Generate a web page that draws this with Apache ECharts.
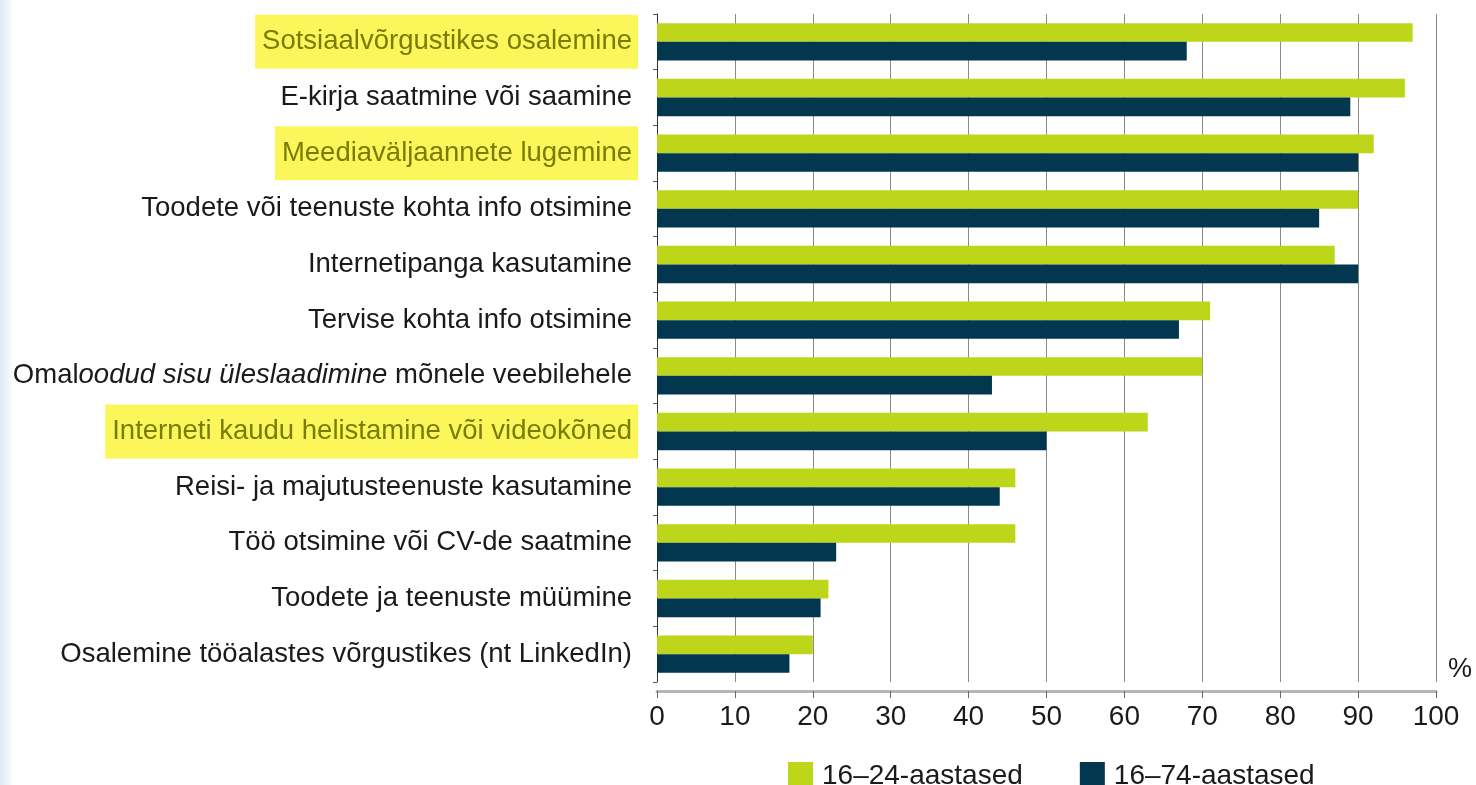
<!DOCTYPE html>
<html>
<head>
<meta charset="utf-8">
<script src="https://cdn.jsdelivr.net/npm/echarts@6/dist/echarts.min.js"></script>
<style>html,body{margin:0;padding:0;background:#fff;}#c{width:1476px;height:785px;}</style>
</head>
<body>
<div id="c"></div>
<script>
const categories = [
  'Sotsiaalvõrgustikes osalemine',
  'E-kirja saatmine või saamine',
  'Meediaväljaannete lugemine',
  'Toodete või teenuste kohta info otsimine',
  'Internetipanga kasutamine',
  'Tervise kohta info otsimine',
  'Omaloodud sisu üleslaadimine mõnele veebilehele',
  'Interneti kaudu helistamine või videokõned',
  'Reisi- ja majutusteenuste kasutamine',
  'Töö otsimine või CV-de saatmine',
  'Toodete ja teenuste müümine',
  'Osalemine tööalastes võrgustikes (nt LinkedIn)'
];
const highlighted = [
  'Sotsiaalvõrgustikes osalemine',
  'Meediaväljaannete lugemine',
  'Interneti kaudu helistamine või videokõned'
];
const seriesNames = ['16–24-aastased', '16–74-aastased'];
const young = [97, 96, 92, 90, 87, 71, 70, 63, 46, 46, 22, 20];
const all = [68, 89, 90, 85, 90, 67, 43, 50, 44, 23, 21, 17];
const xTicks = [0, 10, 20, 30, 40, 50, 60, 70, 80, 90, 100];

const FONT = "'Liberation Sans', Arial, sans-serif";
const FS = 27.5;
const chart = echarts.init(document.getElementById('c'), null, {renderer: 'canvas'});
chart.setOption({
  backgroundColor: '#ffffff',
  animation: false,
  textStyle: {fontFamily: FONT},
  graphic: [{
    type: 'rect', left: 0, top: 0, z: -10,
    shape: {width: 14, height: 785},
    style: {fill: new echarts.graphic.LinearGradient(0, 0, 1, 0, [
      {offset: 0, color: '#dde9f4'}, {offset: 1, color: '#ffffff'}])}
  }],
  grid: {left: 657, right: 40, top: 14, bottom: 103, containLabel: false},
  legend: {
    left: 783, top: 757,
    itemWidth: 25, itemHeight: 28, itemGap: 57,
    icon: 'rect',
    textStyle: {fontSize: 28, color: '#1a1a1a', fontFamily: FONT, padding: [0, 0, 0, 4]},
    data: seriesNames
  },
  xAxis: {
    type: 'value', min: 0, max: 100, interval: 10,
    offset: 9,
    name: '%', nameLocation: 'end', nameGap: 12,
    nameTextStyle: {fontSize: 27, color: '#1a1a1a', verticalAlign: 'bottom', padding: [0, 0, 8, 0], fontFamily: FONT},
    axisLine: {show: true, lineStyle: {color: '#b5b5b5', width: 3}},
    axisTick: {show: true, length: 7, lineStyle: {color: '#666', width: 1}},
    axisLabel: {
      fontSize: 28, color: '#1a1a1a', margin: 12, fontFamily: FONT,
      formatter: function (v) { return xTicks.indexOf(v) >= 0 ? String(v) : ''; }
    },
    splitLine: {show: true, lineStyle: {color: '#8a8a8a', width: 1}}
  },
  yAxis: {
    type: 'category', inverse: true, data: categories,
    axisLine: {show: true, lineStyle: {color: '#333', width: 1}},
    axisTick: {show: true, length: 4, lineStyle: {color: '#555'}},
    axisLabel: {
      margin: 19, fontSize: FS, color: '#1a1a1a', fontFamily: FONT,
      formatter: function (v) {
        if (highlighted.indexOf(v) >= 0) return '{h|' + v + '}';
        if (v.indexOf('Omaloodud') === 0) {
          return '{n1|Omal}{it|oodud sisu üleslaadimine}{n2| mõnele veebilehele}';
        }
        return '{n|' + v + '}';
      },
      rich: {
        n: {fontSize: FS, color: '#1a1a1a', padding: [0, 6, 0, 6], fontFamily: FONT},
        n1: {fontSize: FS, color: '#1a1a1a', padding: [0, 0, 0, 0], fontFamily: FONT},
        it: {fontSize: FS, color: '#1a1a1a', fontStyle: 'italic', fontFamily: FONT},
        n2: {fontSize: FS, color: '#1a1a1a', padding: [0, 6, 0, 0], fontFamily: FONT},
        h: {fontSize: FS, color: '#7a7c08', backgroundColor: '#fbf65a', padding: [13, 6, 13, 7], fontFamily: FONT}
      }
    },
    splitLine: {show: false}
  },
  series: [
    {
      name: seriesNames[0], type: 'bar', data: young,
      itemStyle: {color: '#bdd619'},
      barGap: '0%', barCategoryGap: '33%'
    },
    {
      name: seriesNames[1], type: 'bar', data: all,
      itemStyle: {color: '#02374f'},
      barGap: '0%', barCategoryGap: '33%'
    }
  ]
});
</script>
</body>
</html>
